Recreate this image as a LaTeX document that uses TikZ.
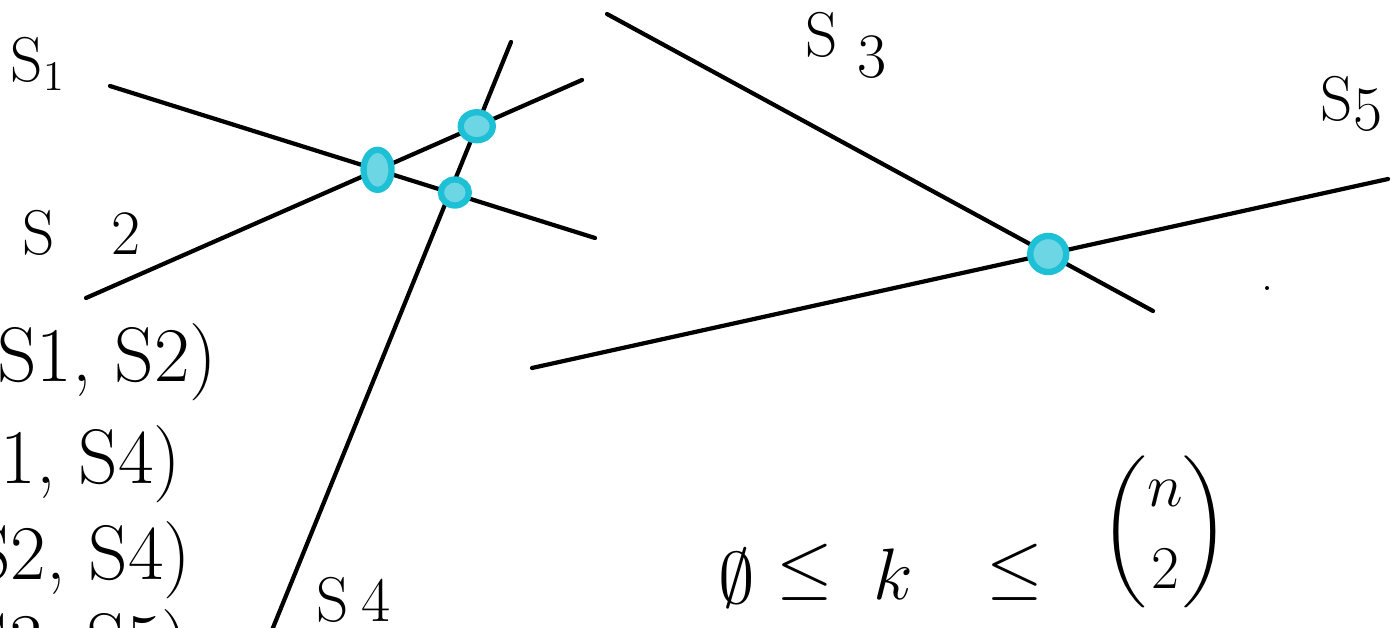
\documentclass[tikz,border=0pt]{standalone}
\usepackage{amsmath,amssymb}
\usetikzlibrary{intersections}
\definecolor{marker}{RGB}{30,192,214}

\begin{document}
\begin{tikzpicture}[x=0.01cm,y=-0.01cm,
    seg/.style={line width=1.2pt,line cap=round},
    blob/.style={draw=marker,fill=marker!65,line width=1.8pt},
    lab/.style={inner sep=0pt,font=\fontsize{18}{20}\selectfont},
    pair/.style={inner sep=0pt,anchor=east,font=\fontsize{22}{24}\selectfont}]
  \clip (0,0) rectangle (1398,628);
  % the five segments
  \draw[seg,name path=s1] (110,86) -- (595,238);
  \draw[seg,name path=s2] (86,298) -- (582,80);
  \draw[seg,name path=s4] (511,42) -- (268,640);
  \draw[seg,name path=s3] (607,14) -- (1153,311);
  \draw[seg,name path=s5] (532,368) -- (1388,179);
  \fill (1267,288) circle[radius=2];
  % crossings
  \path[name intersections={of=s1 and s2,by=c12}];
  \path[name intersections={of=s2 and s4,by=c24}];
  \path[name intersections={of=s1 and s4,by=c14}];
  \path[name intersections={of=s3 and s5,by=c35}];
  \draw[blob] (c12) ellipse[x radius=14,y radius=20];
  \draw[blob] (c24) ellipse[x radius=16,y radius=14];
  \draw[blob] ([xshift=0.05cm]c14) ellipse[x radius=14,y radius=13];
  \draw[blob] (c35) ellipse[x radius=18,y radius=18];
  % labels
  \node[lab,anchor=west] (l1) at (10,64) {S$_1$};
  \node[lab,anchor=west] (l2) at (22,233) {S\hspace{0.9em}2};
  \node[lab] (l3) at (846,45) {S\hspace{0.3em}\lower6pt\hbox{3}};
  \node[lab,anchor=west] (l5) at (1320,104) {S\lower3pt\hbox{5}};
  \node[lab,anchor=west] (l4) at (316,600) {S\hspace{0.2em}4};
  % list of pairs
  \node[pair] (p12) at (218,362) {(S1, S2)};
  \node[pair] (p14) at (182,464) {(S1, S4)};
  \node[pair] (p24) at (192,560) {(S2, S4)};
  \node[pair] (p35) at (190,648) {(S3, S5)};
  % bound
  \node[inner sep=0pt,font=\fontsize{22}{24}\selectfont] (zero) at (737,578) {$\emptyset$};
  \node[inner sep=0pt,font=\fontsize{22}{24}\selectfont] (le1) at (805,572) {$\leq$};
  \node[inner sep=0pt,font=\fontsize{22}{24}\selectfont] (kk) at (893,574) {$k$};
  \node[inner sep=0pt,font=\fontsize{22}{24}\selectfont] (le2) at (1015,572) {$\leq$};
  \node[inner sep=0pt,font=\fontsize{18}{20}\selectfont] (nk) at (1165,532) {$\displaystyle\binom{n}{2}$};
\end{tikzpicture}
\end{document}
